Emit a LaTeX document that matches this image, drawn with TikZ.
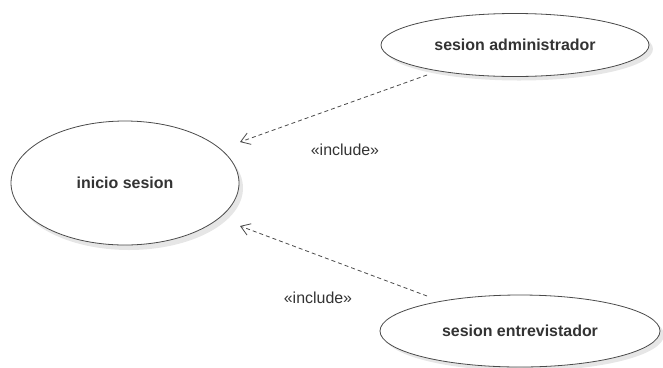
\documentclass[tikz,border=0pt]{standalone}
\usepackage{fontspec}
\setmainfont{Liberation Sans}
\usetikzlibrary{shapes.geometric,arrows.meta}
\definecolor{txt}{HTML}{333333}
\definecolor{ln}{HTML}{4A4A4A}
\definecolor{shd}{HTML}{E6E6E6}
\begin{document}
\begin{tikzpicture}[x=1bp,y=-1bp,
  usecase/.style={ellipse,draw=ln,line width=0.8bp,fill=white,inner sep=0pt,
    font=\fontsize{16}{19}\selectfont\bfseries,text=txt},
  ucshadow/.style={ellipse,fill=shd,draw=none,inner sep=0pt},
  incl/.style={draw=ln,line width=0.8bp,dash pattern=on 4bp off 3bp,
    -{Straight Barb[length=9bp,width=12bp,line width=0.8bp]}},
  lbl/.style={font=\fontsize{16}{19}\selectfont,text=txt,inner sep=0pt}]
\useasboundingbox (0,0) rectangle (663,367);
% shadows
\node[ucshadow,minimum width=228bp,minimum height=124bp] at (129,188) {};
\node[ucshadow,minimum width=268bp,minimum height=63bp] at (519,49) {};
\node[ucshadow,minimum width=280bp,minimum height=72bp] at (524,335) {};
% use cases
\node[usecase,minimum width=228bp,minimum height=124bp] (ini) at (125,183) {inicio sesion};
\node[usecase,minimum width=268bp,minimum height=63bp] (adm) at (515,45) {sesion administrador};
\node[usecase,minimum width=280bp,minimum height=72bp] (ent) at (520,331) {sesion entrevistador};
% connector ends
\coordinate (s1) at (427,75);
\coordinate (t1) at (240,142);
\coordinate (s2) at (427,296);
\coordinate (t2) at (240,226);
\draw[incl] (s1) -- (t1);
\draw[incl] (s2) -- (t2);
% labels
\node[lbl] (l1) at (345,150) {«include»};
\node[lbl] (l2) at (318,298) {«include»};
\end{tikzpicture}
\end{document}
